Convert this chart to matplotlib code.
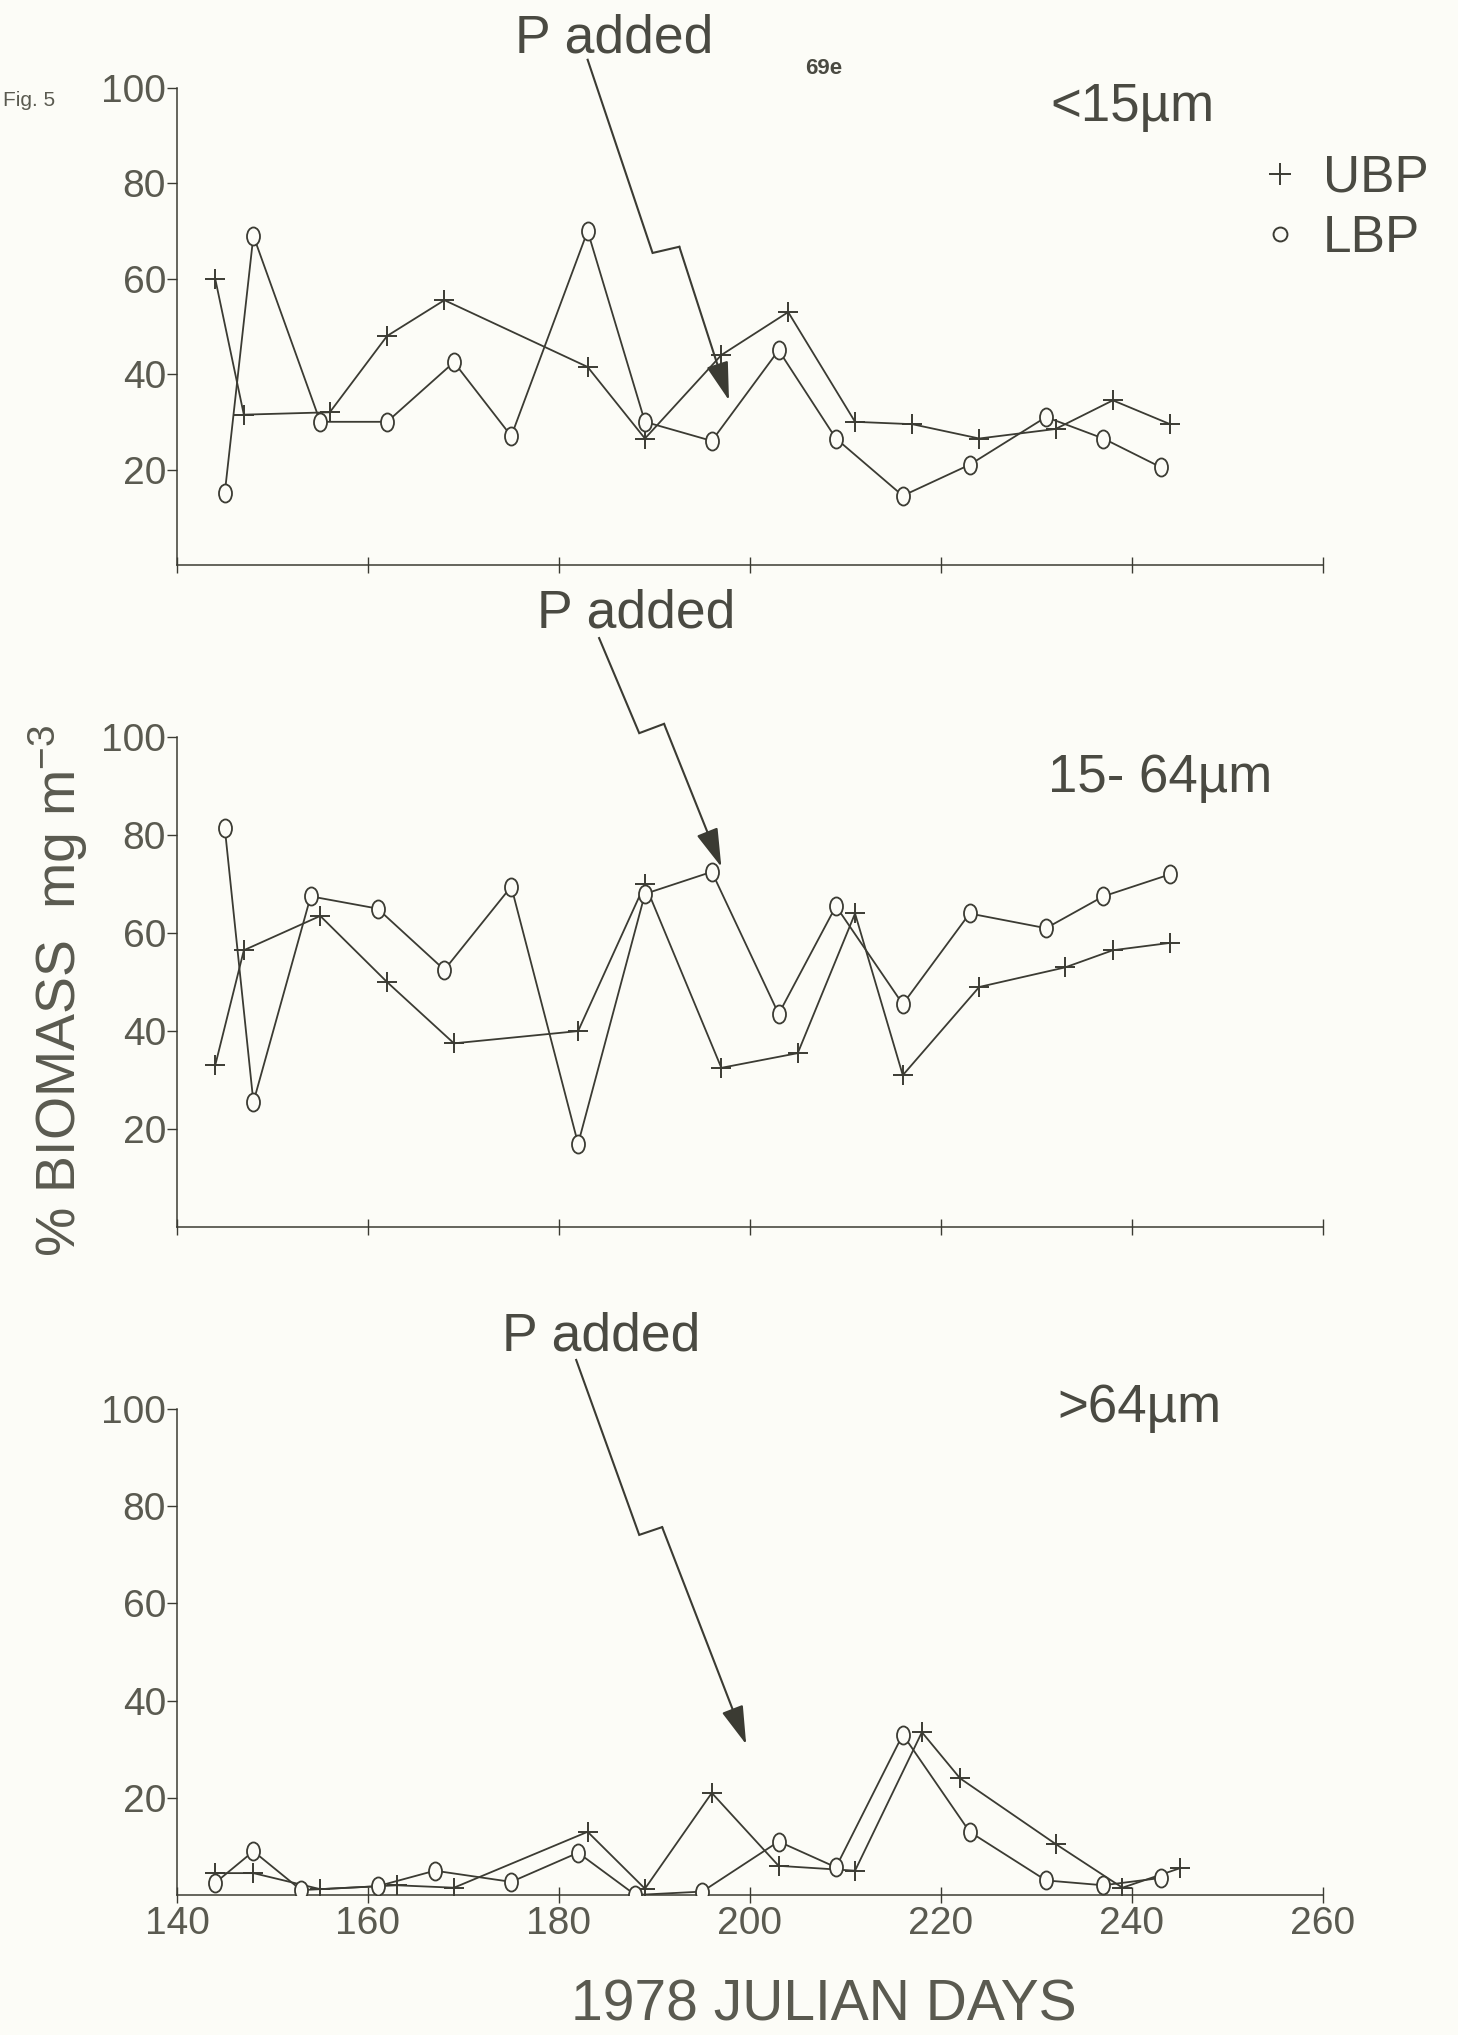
import matplotlib
matplotlib.use("Agg")
import matplotlib.pyplot as plt
from matplotlib.lines import Line2D
from matplotlib.path import Path
import numpy as np

# --- data: % biomass by size fraction, UBP (+) and LBP (o) ---
ubp_days_small = [144, 147, 156, 162, 168, 183, 189, 197, 204, 211, 217, 224, 232, 238, 244]
ubp_small = [60, 31.5, 32, 48, 55.5, 41.5, 26.5, 44, 53, 30, 29.5, 26.5, 28.5, 34.5, 29.5]
lbp_days_small = [145, 148, 155, 162, 169, 175, 183, 189, 196, 203, 209, 216, 223, 231, 237, 243]
lbp_small = [15, 69, 30, 30, 42.5, 27, 70, 30, 26, 45, 26.5, 14.5, 21, 31, 26.5, 20.5]

ubp_days_mid = [144, 147, 155, 162, 169, 182, 189, 197, 205, 211, 216, 224, 233, 238, 244]
ubp_mid = [33, 56.5, 63.5, 50, 37.5, 40, 70, 32.5, 35.5, 64, 31, 49, 53, 56.5, 58]
lbp_days_mid = [145, 148, 154, 161, 168, 175, 182, 189, 196, 203, 209, 216, 223, 231, 237, 244]
lbp_mid = [81.5, 25.5, 67.5, 65, 52.5, 69.5, 17, 68, 72.5, 43.5, 65.5, 45.5, 64, 61, 67.5, 72]

ubp_days_large = [144, 148, 155, 163, 169, 183, 189, 196, 203, 211, 218, 222, 232, 239, 245]
ubp_large = [4.5, 4.5, 1.2, 2, 1.5, 13, 1.3, 21, 6, 5, 33.5, 24, 10.5, 1.5, 5.5]
lbp_days_large = [144, 148, 153, 161, 167, 175, 182, 188, 195, 203, 209, 216, 223, 231, 237, 243]
lbp_large = [2.5, 9, 1, 1.8, 5, 2.7, 8.7, 0, 0.7, 11, 5.7, 33, 13, 3, 2, 3.5]

size_labels = ["<15µm", "15- 64µm", ">64µm"]
y_ticks = [20, 40, 60, 80, 100]
x_ticks = [140, 160, 180, 200, 220, 240, 260]

# --- styling ---
BG = "#fcfcf7"
INK = "#3b3b33"
TXT = "#4a4a42"
LIGHT = "#5a5a50"
SANS = ["Liberation Sans", "DejaVu Sans"]

plt.rcParams["font.family"] = SANS
plt.rcParams["mathtext.fontset"] = "custom"
plt.rcParams["mathtext.rm"] = "Liberation Sans"
plt.rcParams["mathtext.it"] = "Liberation Sans"

# typed-looking "o": slightly taller than wide
_c = Path.unit_circle()
oval = Path(_c.vertices * np.array([0.72, 1.0]), _c.codes)

fig = plt.figure(figsize=(14.58, 20.35), dpi=100, facecolor=BG)

rects = [
    [0.1214, 0.7224, 0.786, 0.2344],
    [0.1214, 0.3970, 0.786, 0.2408],
    [0.1214, 0.0688, 0.786, 0.2388],
]
series = [
    (ubp_days_small, ubp_small, lbp_days_small, lbp_small),
    (ubp_days_mid, ubp_mid, lbp_days_mid, lbp_mid),
    (ubp_days_large, ubp_large, lbp_days_large, lbp_large),
]
# "P added" text (left, baseline) and zig-zag arrow path, in data units
p_text = [(175.4, 107.5), (177.7, 122.4), (174.0, 112.1)]
p_path = [
    [(183.0, 105.9), (189.8, 65.4), (192.6, 66.7), (197.8, 34.5)],
    [(184.2, 120.2), (188.4, 100.8), (191.0, 102.7), (197.0, 73.5)],
    [(181.8, 110.1), (188.4, 74.1), (190.8, 75.7), (199.6, 31.0)],
]
size_pos = [(231.5, 93.0), (231.2, 88.8), (232.2, 97.3)]

for i, rect in enumerate(rects):
    ax = fig.add_axes(rect)
    ax.set_facecolor("none")
    ud, uv, ld, lv = series[i]
    ax.plot(ud, uv, color=INK, lw=1.3, marker="+", ms=15, mew=1.4, zorder=3)
    ax.plot(ld, lv, color=INK, lw=1.3, marker=oval, ms=13, mew=1.3,
            mfc=BG, mec=INK, zorder=4)

    ax.set_xlim(140, 260)
    ax.set_ylim(0, 100)
    for s in ["top", "right"]:
        ax.spines[s].set_visible(False)
    for s in ["left", "bottom"]:
        ax.spines[s].set_color(INK)
        ax.spines[s].set_linewidth(1.1)
    ax.set_yticks(y_ticks)
    ax.set_yticklabels([str(t) for t in y_ticks], fontsize=28, color=LIGHT)
    ax.set_xticks(x_ticks)
    ax.tick_params(axis="y", direction="out", length=7, width=1.0, color=INK, pad=1)
    ax.tick_params(axis="x", direction="inout", length=12, width=1.0, color=INK, pad=2)
    if i < 2:
        ax.set_xticklabels([])
    else:
        ax.set_xticklabels([str(t) for t in x_ticks], fontsize=28, color=LIGHT)

    # phosphorus addition marker
    tx, ty = p_text[i]
    ax.text(tx, ty, "P added", fontsize=38.5, color=TXT, ha="left", va="baseline",
            clip_on=False)
    path = p_path[i]
    ax.plot([p[0] for p in path[:3]], [p[1] for p in path[:3]], color=INK, lw=1.5,
            clip_on=False, solid_joinstyle="miter")
    ax.annotate("", xy=path[3], xytext=path[2], annotation_clip=False,
                arrowprops=dict(arrowstyle="-|>,head_length=1.2,head_width=0.35",
                                color=INK, lw=1.5, mutation_scale=20,
                                shrinkA=0, shrinkB=0))

    sx, sy = size_pos[i]
    ax.text(sx, sy, size_labels[i], fontsize=38, color=TXT, ha="left", va="baseline",
            clip_on=False)

# legend for the two stations
handles = [
    Line2D([], [], ls="none", marker="+", ms=16, mew=1.4, color=INK),
    Line2D([], [], ls="none", marker="o", ms=10, mew=1.4, mfc=BG, mec=INK),
]
fig.legend(handles, ["UBP", "LBP"], loc="upper left",
           bbox_to_anchor=(0.8605, 0.9245), frameon=False, fontsize=37,
           handlelength=1.0, handletextpad=0.33, labelspacing=0.22,
           borderpad=0, borderaxespad=0, labelcolor=TXT)

fig.text(0.040, 0.513, r"% BIOMASS  mg m$^{-3}$", rotation=90, ha="center",
         va="center", fontsize=40, color=LIGHT)
fig.text(0.565, 3 / 2035, "1978 JULIAN DAYS", ha="center", va="bottom",
         fontsize=41, color=LIGHT)
fig.text(0.552, 1 - 74 / 2035, "69e", fontsize=16, fontweight="bold", color=TXT,
         ha="left", va="baseline")
fig.text(3 / 1458, 1 - 106 / 2035, "Fig. 5", fontsize=15, color=LIGHT,
         ha="left", va="baseline")

fig.savefig("out.png", dpi=100, facecolor=BG)
